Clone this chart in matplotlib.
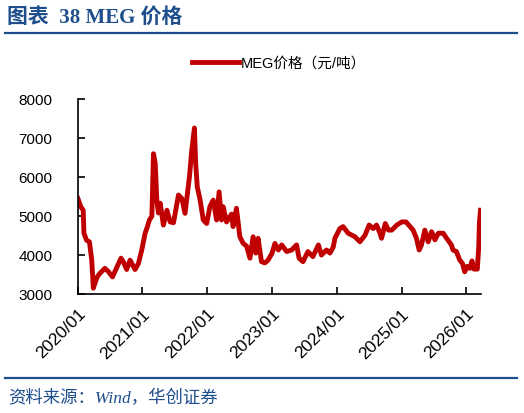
import pandas as pd
import matplotlib.pyplot as plt
import matplotlib.dates as mdates

plt.rcParams['font.family'] = ['Liberation Sans', 'Noto Sans CJK SC']

# MEG price (yuan/ton)
dates = [
    "2020-01-03", "2020-01-19", "2020-02-02", "2020-02-06", "2020-02-21", "2020-03-08",
    "2020-03-21", "2020-03-30", "2020-04-08", "2020-04-21", "2020-05-06", "2020-06-03",
    "2020-06-22", "2020-07-16", "2020-08-08", "2020-09-02", "2020-09-15", "2020-10-04",
    "2020-10-23", "2020-11-20", "2020-12-09", "2020-12-28", "2021-01-16", "2021-01-29",
    "2021-02-09", "2021-02-23", "2021-03-04", "2021-03-14", "2021-03-23", "2021-04-01",
    "2021-04-11", "2021-04-29", "2021-05-19", "2021-06-06", "2021-06-25", "2021-07-23",
    "2021-08-11", "2021-08-29", "2021-09-23", "2021-10-06", "2021-10-21", "2021-10-28",
    "2021-11-06", "2021-11-22", "2021-12-10", "2021-12-29", "2022-01-16", "2022-02-04",
    "2022-02-23", "2022-03-09", "2022-03-23", "2022-04-01", "2022-04-20", "2022-05-18",
    "2022-05-27", "2022-06-15", "2022-07-04", "2022-07-23", "2022-08-11", "2022-08-30",
    "2022-09-17", "2022-10-02", "2022-10-15", "2022-11-03", "2022-11-22", "2022-12-10",
    "2023-01-01", "2023-01-18", "2023-02-06", "2023-02-25", "2023-03-25", "2023-04-22",
    "2023-05-20", "2023-06-03", "2023-06-25", "2023-07-23", "2023-08-20", "2023-09-20",
    "2023-10-07", "2023-11-05", "2023-11-24", "2023-12-13", "2023-12-22", "2024-01-19",
    "2024-02-06", "2024-03-06", "2024-04-13", "2024-05-11", "2024-06-09", "2024-07-02",
    "2024-07-25", "2024-08-13", "2024-09-01", "2024-09-10", "2024-10-01", "2024-10-19",
    "2024-11-07", "2024-12-05", "2025-01-02", "2025-01-26", "2025-02-18", "2025-03-07",
    "2025-03-26", "2025-04-10", "2025-04-23", "2025-05-12", "2025-05-31", "2025-06-19",
    "2025-07-08", "2025-07-27", "2025-08-24", "2025-09-12", "2025-10-09", "2025-10-18",
    "2025-11-06", "2025-11-25", "2025-12-10", "2025-12-23", "2026-01-05", "2026-01-21",
    "2026-02-02", "2026-02-13", "2026-03-04", "2026-03-12", "2026-03-16", "2026-03-22",
]
meg_price = [
    5450, 5240, 5150, 4560, 4380, 4340,
    3870, 3150, 3280, 3440, 3530, 3660,
    3580, 3440, 3670, 3920, 3830, 3630,
    3870, 3630, 3780, 4130, 4560, 4730,
    4900, 5000, 6600, 6350, 5410, 5080,
    5330, 4770, 5150, 4850, 4830, 5540,
    5450, 5070, 6010, 6690, 7260, 6350,
    5750, 5410, 4900, 4810, 5240, 5410,
    4900, 5620, 4900, 5240, 4850, 5050,
    4730, 5200, 4470, 4300, 4230, 3920,
    4470, 4050, 4430, 3830, 3800, 3870,
    4040, 4300, 4130, 4260, 4090, 4130,
    4260, 3920, 3830, 4090, 3960, 4260,
    4000, 4130, 4050, 4210, 4430, 4680,
    4730, 4560, 4470, 4340, 4510, 4770,
    4680, 4770, 4560, 4430, 4810, 4640,
    4640, 4770, 4850, 4850, 4730, 4640,
    4430, 4130, 4260, 4640, 4340, 4600,
    4390, 4560, 4560, 4430, 4260, 4130,
    4090, 3870, 3790, 3570, 3710, 3660,
    3850, 3640, 3640, 4210, 4850, 5150,
]
year_ticks = ["2020-01-01", "2021-01-01", "2022-01-01", "2023-01-01",
              "2024-01-01", "2025-01-01", "2026-01-01"]

blue = '#1F4E8C'
red = '#C00000'

df = pd.DataFrame({'date': pd.to_datetime(dates), 'price': meg_price})

fig = plt.figure(figsize=(5.24, 4.13), dpi=100)
ax = fig.add_axes([0.148, 0.288, 0.769, 0.472])

ax.plot(df['date'], df['price'], color=red, lw=3.5, solid_joinstyle='round',
        label='MEG价格（元/吨）')

ax.set_ylim(3000, 8000)
ax.set_yticks(range(3000, 8001, 1000))
ax.set_xlim(pd.Timestamp("2020-01-01"), pd.Timestamp("2026-03-22"))
ax.set_xticks(pd.to_datetime(year_ticks))
ax.xaxis.set_major_formatter(mdates.DateFormatter('%Y/%m'))

for s in ['top', 'right']:
    ax.spines[s].set_visible(False)
for s in ['left', 'bottom']:
    ax.spines[s].set_linewidth(1.2)
ax.tick_params(axis='both', direction='in', length=5, width=1.2, labelsize=11)
ax.tick_params(axis='y', pad=18)
ax.tick_params(axis='x', labelsize=12.5, pad=9)
plt.setp(ax.get_xticklabels(), rotation=45, ha='right', rotation_mode='anchor')

ax.legend(loc='lower center', bbox_to_anchor=(0.5, 1.08), frameon=False,
          fontsize=10.5, handlelength=3.2, handletextpad=0.1)

# header and footer
fig.text(0.013, 0.958, '图表  38 MEG 价格', color=blue, fontsize=15, fontweight='bold',
         family=['Liberation Serif', 'Noto Sans CJK SC'], va='center')
fig.add_artist(plt.Line2D([0.01, 0.987], [0.919, 0.919], color=blue, lw=1.6))
fig.add_artist(plt.Line2D([0.01, 0.987], [0.085, 0.085], color=blue, lw=1.6))
fig.text(0.015, 0.036, '资料来源：Wind，华创证券', color=blue, fontsize=12.5, style='italic',
         family=['Liberation Serif', 'Noto Sans CJK SC'], va='center')

fig.savefig('out.png', dpi=100)
